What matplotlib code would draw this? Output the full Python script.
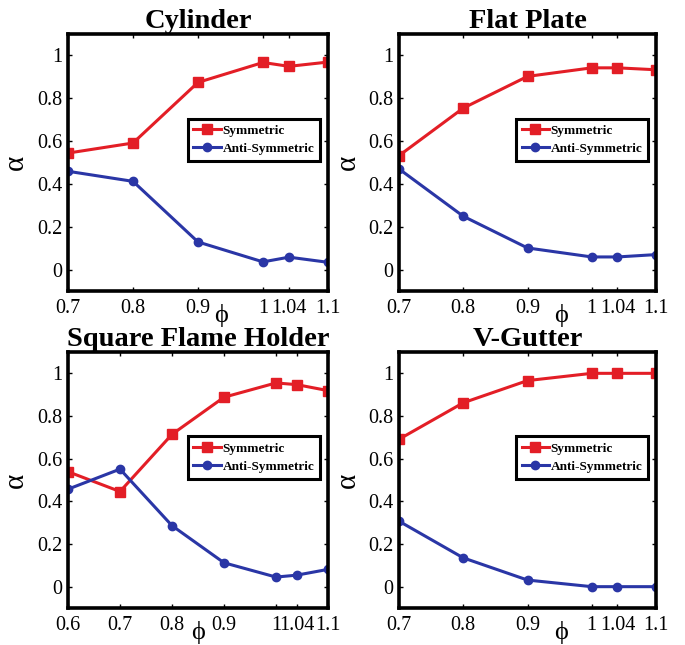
import matplotlib
matplotlib.use("Agg")
import matplotlib.pyplot as plt

plt.rcParams['font.family'] = ['Liberation Serif', 'DejaVu Serif']

phi = [0.7, 0.8, 0.9, 1.0, 1.04, 1.1]
phi_sq = [0.6, 0.7, 0.8, 0.9, 1.0, 1.04, 1.1]

cyl_sym = [0.544, 0.591, 0.874, 0.967, 0.949, 0.969]
cyl_anti = [0.459, 0.412, 0.129, 0.036, 0.058, 0.034]

flat_sym = [0.532, 0.754, 0.902, 0.942, 0.942, 0.933]
flat_anti = [0.470, 0.249, 0.101, 0.059, 0.059, 0.070]

sq_sym = [0.539, 0.446, 0.714, 0.888, 0.955, 0.947, 0.919]
sq_anti = [0.457, 0.551, 0.286, 0.112, 0.045, 0.054, 0.081]

vg_sym = [0.691, 0.862, 0.966, 1.0, 1.0, 1.0]
vg_anti = [0.307, 0.135, 0.031, 0.0, 0.0, 0.0]

titles = ["Cylinder", "Flat Plate", "Square Flame Holder", "V-Gutter"]
xs = [phi, phi, phi_sq, phi]
syms = [cyl_sym, flat_sym, sq_sym, vg_sym]
antis = [cyl_anti, flat_anti, sq_anti, vg_anti]
yticks = [0, 0.2, 0.4, 0.6, 0.8, 1]
ytick_labels = ["0", "0.2", "0.4", "0.6", "0.8", "1"]

W, H = 685, 645
# axes boxes in pixels: left, top, right, bottom
boxes = [(68, 34, 328, 291), (399, 34, 656, 291),
         (68, 352, 328, 608), (399, 352, 656, 608)]
phi_pos = [0.59, 0.63, 0.50, 0.63]

red = "#e31e26"
blue = "#2a36a6"

fig = plt.figure(figsize=(6.85, 6.45), dpi=100)

for i in range(4):
    l, t, r, b = boxes[i]
    ax = fig.add_axes([l / W, 1 - b / H, (r - l) / W, (b - t) / H])
    x = xs[i]
    ax.plot(x, syms[i], color=red, lw=2.2, marker='s', ms=6.5, label="Symmetric")
    ax.plot(x, antis[i], color=blue, lw=2.2, marker='o', ms=6, label="Anti-Symmetric")
    ax.set_xlim(x[0], x[-1])
    ax.set_ylim(-0.1, 1.1)
    ax.set_xticks(x)
    ax.set_xticklabels(["%g" % v for v in x])
    ax.set_yticks(yticks)
    ax.set_yticklabels(ytick_labels)
    ax.tick_params(direction='in', length=3, width=1, top=True, right=True,
                   labelsize=14.5)
    ax.tick_params(axis='x', pad=6)
    ax.tick_params(axis='y', pad=4)
    for s in ax.spines.values():
        s.set_linewidth(2.6)
    ax.set_title(titles[i], fontsize=20.5, fontweight='bold', pad=4)
    ax.set_xlabel("ϕ", fontsize=19)
    ax.xaxis.set_label_coords(phi_pos[i], -0.05)
    ax.set_ylabel("α", fontsize=21, rotation=90)
    ax.yaxis.set_label_coords(-0.15, 0.5)
    leg = ax.legend(loc='center right', bbox_to_anchor=(0.97, 0.588),
                    prop={'weight': 'bold', 'size': 9.5}, fancybox=False,
                    handlelength=2.1, borderpad=0.45, labelspacing=0.45,
                    handletextpad=0.1, borderaxespad=0, framealpha=1)
    leg.get_frame().set_edgecolor('black')
    leg.get_frame().set_linewidth(2.2)

fig.savefig("out.png", dpi=100)
